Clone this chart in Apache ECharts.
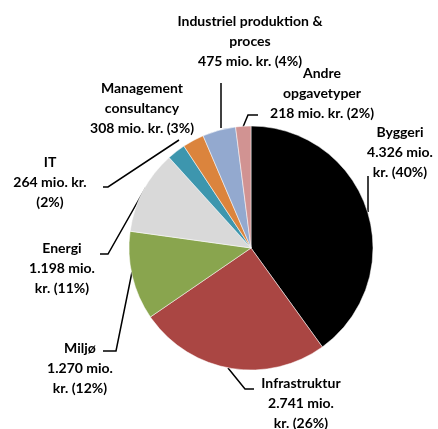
<!DOCTYPE html>
<html>
<head>
<meta charset="utf-8">
<script src="https://cdn.jsdelivr.net/npm/echarts@6/dist/echarts.min.js"></script>
<style>
  html, body { margin: 0; padding: 0; background: #fff; }
  #chartPie { width: 438px; height: 429px; }
</style>
</head>
<body>
<div id="chartPie"></div>
<script>
var categories = ["Byggeri", "Infrastruktur", "Miljø", "Energi", "IT", "Management consultancy", "Industriel produktion & proces", "Andre opgavetyper"];
var values = [4326, 2741, 1270, 1198, 264, 308, 475, 218];
var valueLabels = ["4.326", "2.741", "1.270", "1.198", "264", "308", "475", "218"];
var percentLabels = ["40%", "26%", "12%", "11%", "2%", "3%", "4%", "2%"];
var labelTexts = [
  "Byggeri\n4.326 mio.\nkr. (40%)",
  "Infrastruktur\n2.741 mio.\nkr. (26%)",
  "Miljø\n1.270 mio.\nkr. (12%)",
  "Energi\n1.198 mio.\nkr. (11%)",
  "IT\n264 mio. kr.\n(2%)",
  "Management\nconsultancy\n308 mio. kr. (3%)",
  "Industriel produktion &\nproces\n475 mio. kr. (4%)",
  "Andre\nopgavetyper\n218 mio. kr. (2%)",
];
var colors = ["#000000", "#AA4643", "#89A54E", "#D9D9D9", "#3D96AE", "#DB843D", "#93A9CF", "#D19392"];

window.onload = function () {
  InitPie();
};

function InitPie() {
  var myChart = echarts.init(document.getElementById("chartPie"));

  // label placement (Excel-style, labels pulled away from the pie)
  var labelPos = [
    [400, 152], [301, 403], [80, 368], [62, 268],
    [50, 182], [142, 108], [250, 41], [322, 93],
  ];
  var leaderLines = [
    [[368, 212], [368, 194], [368, 176]],
    [[228, 368], [245, 389], [254, 389]],
    [[132, 272], [116, 351], [103, 351]],
    [[146, 187], [108, 254], [100, 254]],
    [[179, 140], [108, 187], [103, 187]],
    null,
    [[221, 128], [221, 105], [221, 83]],
    [[243, 127], [248, 115], [258, 115]],
  ];

  var data = [];
  for (var i = 0; i < categories.length; i++) {
    data.push({
      name: categories[i],
      value: values[i],
      itemStyle: { color: colors[i] },
      labelLine: { show: leaderLines[i] != null },
    });
  }

  var option = {
    animation: false,
    series: [
      {
        type: "pie",
        center: [251, 248],
        radius: 122,
        startAngle: 90,
        clockwise: true,
        avoidLabelOverlap: false,
        itemStyle: { borderColor: "#fff", borderWidth: 0.5 },
        label: {
          show: true,
          position: "outside",
          formatter: function (p) {
            return labelTexts[p.dataIndex];
          },
          fontFamily: "Lato",
          fontWeight: "bold",
          fontSize: 14,
          lineHeight: 20,
          color: "#000",
        },
        labelLine: {
          show: true,
          lineStyle: { color: "#000", width: 1.5 },
        },
        labelLayout: function (params) {
          var i = params.dataIndex;
          var res = {
            x: labelPos[i][0],
            y: labelPos[i][1],
            align: "center",
            verticalAlign: "middle",
          };
          if (leaderLines[i]) res.labelLinePoints = leaderLines[i];
          return res;
        },
        data: data,
      },
    ],
  };
  myChart.setOption(option);
}
</script>
</body>
</html>
